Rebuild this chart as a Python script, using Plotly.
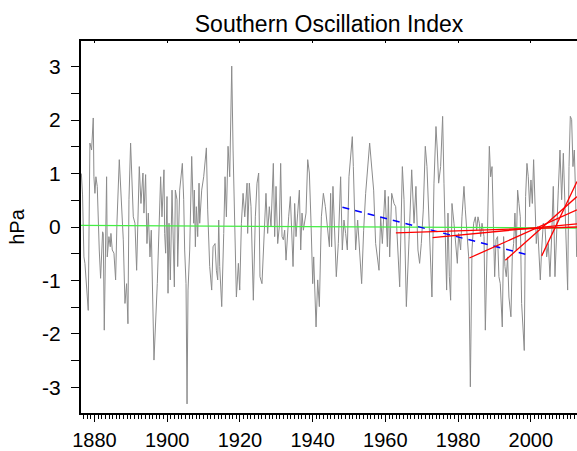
import plotly.graph_objects as go

# ---------------- data ----------------
soi_year = [
    1876.40, 1876.73, 1877.10, 1877.38, 1878.29, 1878.75, 1879.21, 1879.67, 1879.85, 1880.13,
    1880.40, 1880.77, 1881.32, 1881.69, 1882.24, 1882.42, 1882.70, 1883.06, 1883.34, 1883.52,
    1883.98, 1884.35, 1884.53, 1884.90, 1885.36, 1885.82, 1886.18, 1886.83, 1887.19, 1887.56,
    1887.93, 1888.39, 1888.84, 1889.21, 1889.49, 1889.94, 1890.22, 1890.68, 1891.14, 1891.60,
    1892.33, 1892.79, 1893.34, 1893.61, 1894.07, 1894.44, 1894.81, 1895.27, 1895.63, 1896.37,
    1897.28, 1898.20, 1898.57, 1899.12, 1899.31, 1899.58, 1899.95, 1900.23, 1900.50, 1900.87,
    1901.33, 1901.60, 1901.97, 1902.24, 1902.70, 1902.89, 1903.44, 1904.17, 1904.54, 1904.81,
    1905.18, 1905.46, 1905.73, 1906.19, 1906.74, 1907.29, 1907.47, 1907.75, 1908.02, 1908.39,
    1908.76, 1908.94, 1909.49, 1910.04, 1910.78, 1911.14, 1911.69, 1912.24, 1912.61, 1913.16,
    1913.53, 1913.90, 1914.17, 1914.45, 1915.00, 1915.55, 1915.91, 1916.28, 1916.74, 1917.20,
    1917.75, 1918.12, 1918.67, 1919.03, 1919.58, 1919.95, 1920.41, 1920.87, 1921.33, 1921.97,
    1922.13, 1922.59, 1923.05, 1923.69, 1924.24, 1924.70, 1925.16, 1925.52, 1926.07, 1926.72,
    1927.17, 1927.63, 1928.09, 1928.55, 1929.19, 1929.56, 1929.93, 1930.39, 1930.84, 1931.21,
    1931.58, 1931.95, 1932.31, 1932.68, 1933.05, 1933.41, 1933.87, 1934.24, 1934.61, 1935.06,
    1935.43, 1935.89, 1936.35, 1936.72, 1937.08, 1937.45, 1937.82, 1938.18, 1938.64, 1939.10,
    1939.56, 1940.02, 1940.29, 1940.66, 1940.94, 1941.39, 1941.85, 1942.40, 1942.95, 1943.50,
    1944.06, 1944.61, 1944.95, 1945.22, 1945.59, 1945.96, 1946.51, 1947.06, 1947.70, 1948.16,
    1948.62, 1949.08, 1949.54, 1949.99, 1950.91, 1951.19, 1951.83, 1952.38, 1952.93, 1953.48,
    1954.03, 1954.58, 1955.68, 1956.23, 1956.78, 1957.33, 1957.79, 1958.25, 1958.71, 1959.17,
    1959.90, 1960.55, 1960.82, 1961.19, 1961.74, 1962.38, 1962.84, 1963.30, 1963.94, 1964.67,
    1965.13, 1965.77, 1966.14, 1966.51, 1967.24, 1967.88, 1968.41, 1968.96, 1969.42, 1969.88,
    1970.43, 1970.98, 1971.44, 1971.90, 1972.36, 1972.81, 1973.37, 1973.92, 1974.28, 1974.65,
    1975.20, 1975.75, 1976.12, 1976.48, 1976.85, 1977.22, 1977.59, 1977.95, 1978.32, 1978.87,
    1979.24, 1979.79, 1980.15, 1980.70, 1981.07, 1981.62, 1981.99, 1982.45, 1982.91, 1983.37,
    1983.82, 1984.28, 1984.74, 1985.11, 1985.47, 1985.84, 1986.21, 1986.58, 1987.13, 1987.49,
    1988.04, 1988.59, 1988.96, 1989.33, 1989.70, 1990.06, 1990.43, 1990.86, 1991.23, 1991.60,
    1992.15, 1992.52, 1992.88, 1993.25, 1993.62, 1993.98, 1994.53, 1994.90, 1995.27, 1995.63,
    1996.00, 1996.37, 1996.74, 1997.10, 1997.47, 1997.84, 1998.20, 1998.57, 1998.94, 1999.30,
    1999.67, 2000.04, 2000.41, 2000.77, 2001.14, 2001.51, 2001.87, 2002.24, 2002.61, 2002.97,
    2003.43, 2003.89, 2004.35, 2004.81, 2005.27, 2005.73, 2006.18, 2006.64, 2007.10, 2007.56,
    2008.02, 2008.48, 2008.94, 2009.40, 2009.76, 2010.13, 2010.50, 2010.86, 2011.23, 2011.59,
    2011.96, 2012.33, 2012.60,
]
soi_hpa = [
    1.00, 0.60, -0.56, -0.68, -1.56, 1.57, 1.44, 2.04, 0.94, 0.63,
    0.94, 0.76, -0.43, -0.96, -0.09, -0.12, -1.93, 0.32, 0.94, -0.56,
    -0.18, -0.37, -0.12, -0.43, -0.49, -0.99, 0.07, 1.26, 0.82, 0.32,
    -0.24, -1.43, -1.06, -1.81, 0.51, 1.57, 1.13, 0.19, 0.07, -0.81,
    1.13, 0.44, 1.01, 0.26, 0.98, -0.31, 0.26, -0.56, -0.06, -2.49,
    -1.06, 0.94, 0.19, 1.07, -0.12, -0.49, 0.57, -1.24, 0.07, -0.99,
    0.69, 0.01, -1.12, 0.69, 0.51, -0.74, 0.69, 1.19, 0.51, -0.43,
    -1.06, -3.31, -1.18, -0.43, 1.32, 0.07, 0.69, -0.37, 0.38, -0.18,
    0.82, 0.07, 0.69, 0.94, 1.48, 0.32, -0.74, -1.18, -0.37, -0.31,
    -0.81, -0.99, 0.13, -0.74, -1.49, -0.12, 0.94, 0.19, 1.51, 0.94,
    3.01, 1.44, -0.43, -1.31, -0.68, -1.18, 0.07, 0.63, 0.19, 0.82,
    -0.12, 0.82, 0.38, -1.37, 0.19, 0.82, 1.01, -0.93, -1.06, -0.12,
    0.63, -0.12, 0.38, 0.01, 1.19, -0.18, 0.76, -0.31, 0.01, 1.19,
    -0.18, -0.24, -0.06, -0.62, -0.06, 0.19, 0.57, -0.06, -0.74, 0.44,
    -0.18, 0.26, 0.69, -0.43, 0.26, -0.06, 0.13, 0.26, 1.26, 1.01,
    0.07, -1.06, -0.56, -1.18, -1.87, -0.99, -1.49, 0.19, 0.63, 0.38,
    -0.06, -0.37, 0.63, -0.37, 0.76, 0.07, -0.93, -0.31, 0.94, -0.43,
    0.13, -0.12, -0.43, 0.94, 1.69, 1.13, -0.43, 0.13, -0.43, -1.06,
    -0.06, 0.63, 1.57, 1.13, 0.69, -0.31, -0.56, -0.81, 0.19, -0.31,
    0.69, -0.37, 0.57, -0.56, 0.63, 0.44, 0.38, -0.31, -1.12, 1.13,
    0.51, -1.49, -0.93, -0.24, 1.07, 0.07, 0.76, -0.43, -0.68, -0.31,
    0.32, 1.51, 1.13, 0.19, -0.43, -1.31, 0.82, 1.88, 1.44, 0.82,
    1.13, 2.07, 0.82, -0.43, -1.18, 0.26, -0.93, -1.37, 0.44, 0.07,
    -0.18, -0.68, -0.12, -0.43, 0.19, 0.76, 0.32, -0.18, -0.56, -2.99,
    -0.43, 0.07, 0.19, -0.06, 0.19, 0.07, -0.18, 0.07, -0.18, -1.93,
    -0.12, 1.51, 0.94, 1.13, 0.07, -0.93, -0.24, -0.18, -0.93, -1.06,
    -1.87, -0.18, -0.74, -0.93, -0.56, -1.31, -1.68, -0.56, -0.31, 0.26,
    -0.43, 0.69, 0.44, 0.19, -1.43, -1.81, -2.31, 0.57, 1.19, 0.94,
    0.38, 0.88, 0.44, 1.26, 0.19, -0.31, 0.01, -0.56, -0.99, -0.43,
    0.07, 0.01, -0.56, -0.31, -0.93, -0.18, 0.76, -0.93, 0.01, 0.69,
    1.44, 0.51, 1.38, 0.19, -0.56, -1.18, 1.13, 2.07, 2.01, 1.13,
    1.44, 0.57, -0.56,
]

# long-term trend (green)
full_trend_year = [1876.3, 2012.7]
full_trend_hpa = [0.03, -0.02]

# 1948-1998 trend (blue dashed)
mid_trend_year = [1948.2, 1998.5]
mid_trend_hpa = [0.37, -0.51]

# trends ending at the last data point (red)
red_start_year = [1962.9, 1973.0, 1983.1, 1993.0, 2003.0]
red_start_hpa = [-0.11, -0.20, -0.58, -0.62, -0.54]
red_end_year = 2012.7
red_end_hpa = [0.00, 0.06, 0.32, 0.57, 0.85]

y_tick_vals = [-3.5, -3, -2.5, -2, -1.5, -1, -0.5, 0, 0.5, 1, 1.5, 2, 2.5, 3, 3.5]
y_tick_text = ["", "-3", "", "-2", "", "-1", "", "0", "", "1", "", "2", "", "3", ""]
x_tick_vals = [1880, 1900, 1920, 1940, 1960, 1980, 2000]

# ---------------- figure ----------------
FONT = "Arial, Liberation Sans, sans-serif"
fig = go.Figure()

fig.add_trace(go.Scatter(x=soi_year, y=soi_hpa, mode="lines",
                         line=dict(color="#8c8c8c", width=1), hoverinfo="skip"))
fig.add_trace(go.Scatter(x=full_trend_year, y=full_trend_hpa, mode="lines",
                         line=dict(color="#44ee44", width=1.2)))
fig.add_trace(go.Scatter(x=mid_trend_year, y=mid_trend_hpa, mode="lines",
                         line=dict(color="#0000ff", width=1.5, dash="7px,6px")))
for sy, sv, ev in zip(red_start_year, red_start_hpa, red_end_hpa):
    fig.add_trace(go.Scatter(x=[sy, red_end_year], y=[sv, ev], mode="lines",
                             line=dict(color="#ff0000", width=1.3)))

x_range = [1876.3, 2012.7]
fig.update_layout(
    width=577, height=451,
    margin=dict(l=81, r=0, t=41, b=38),
    paper_bgcolor="white", plot_bgcolor="white",
    showlegend=False,
    title=dict(text="Southern Oscillation Index", x=0.5, xref="paper",
               y=0.947, yref="container", yanchor="middle",
               font=dict(family=FONT, size=23, color="black")),
    font=dict(family=FONT, color="black"),
    xaxis=dict(range=x_range, showgrid=False, zeroline=False, automargin=False,
               showline=True, linecolor="black", linewidth=2,
               tickmode="array", tickvals=x_tick_vals,
               ticks="outside", ticklen=7, tickwidth=1, tickcolor="black",
               tickfont=dict(family=FONT, size=20, color="black"),
               ticklabelstandoff=1,
               minor=dict(dtick=1, tick0=1880, ticks="outside", ticklen=4,
                          tickwidth=1, tickcolor="black", showgrid=False)),
    xaxis2=dict(range=x_range, overlaying="x", side="top", showgrid=False,
                zeroline=False, showline=True, linecolor="black", linewidth=1.5,
                automargin=False,
                tickmode="array", tickvals=x_tick_vals, ticks="inside",
                ticklen=2, tickcolor="black", showticklabels=False),
    yaxis=dict(range=[-3.48, 3.48], showgrid=False, zeroline=False, automargin=False,
               showline=True, linecolor="black", linewidth=2,
               tickmode="array", tickvals=y_tick_vals, ticktext=y_tick_text,
               ticks="outside", ticklen=8, tickwidth=1.3, tickcolor="black",
               tickfont=dict(family=FONT, size=21, color="black"),
               ticklabelstandoff=6,
               title=dict(text="hPa", font=dict(family=FONT, size=20, color="black"),
                          standoff=12)),
)
# dummy trace to activate the top axis
fig.add_trace(go.Scatter(x=[x_range[0]], y=[0], xaxis="x2", mode="markers",
                         marker=dict(opacity=0), hoverinfo="skip"))

fig.write_html("out.html")
